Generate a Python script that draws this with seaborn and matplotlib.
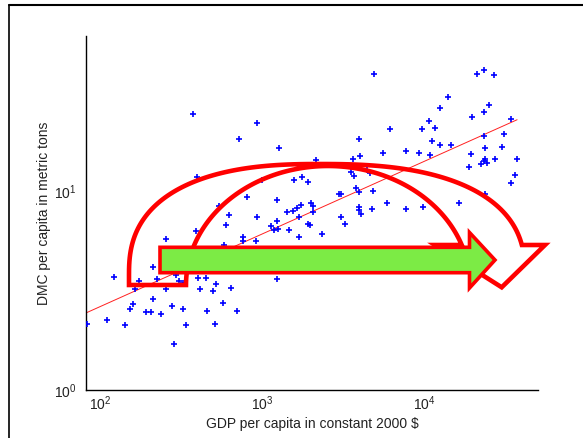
import numpy as np
import pandas as pd
import matplotlib
matplotlib.use("Agg")
import matplotlib.pyplot as plt
import seaborn as sns
from matplotlib.patches import Polygon
from matplotlib.lines import Line2D
from matplotlib.ticker import NullFormatter

# GDP per capita (constant 2000 $) and DMC per capita (metric tons) by country
gdp = [82.3, 110, 142, 122, 152, 158, 164, 172, 191, 205, 210, 210, 223, 236, 254, 254, 277, 283, 294, 305,
       322, 325, 338, 371, 391, 396, 398, 411, 449, 456, 498, 508, 516, 542, 568, 575, 596, 622, 637, 692,
       720, 762, 762, 800, 913, 930, 930, 994, 1130, 1170, 1230, 1230, 1245, 1230, 1270, 1425, 1453, 1538,
       1556, 1629, 1683, 1675, 1723, 1756, 1912, 1920, 1967, 2004, 2045, 2062, 2142, 2317, 2962, 3069, 3069,
       3226, 3498, 3608, 3688, 3783, 3930, 3930, 3930, 3963, 4019, 4033, 4404, 4615, 4750, 4818, 4864,
       5500, 5820, 6110, 7640, 7720, 9170, 9660, 9775, 10670, 10830, 11170, 11560, 12360, 12360, 13840,
       14450, 16230, 18900, 19200, 19620, 20890, 22260, 23100, 23100, 23100, 23260, 23390, 23660, 23700,
       24240, 24970, 26900, 27290, 29920, 30900, 34000, 34000, 36000, 37150]
dmc = [2.15, 2.24, 2.11, 3.71, 2.55, 2.70, 3.23, 3.54, 2.47, 2.47, 2.86, 4.17, 3.62, 2.42, 3.21, 5.74, 2.65,
       1.71, 3.76, 3.54, 2.55, 3.44, 2.11, 24.3, 6.28, 11.7, 3.65, 3.21, 3.65, 2.48, 3.15, 2.15, 3.41, 8.41,
       2.73, 5.35, 6.72, 7.55, 3.24, 2.49,
       18.3, 5.89, 5.63, 9.36, 5.63, 7.38, 21.9, 11.4, 6.67, 6.35, 8.98, 7.08, 6.42, 3.62, 16.5, 7.84, 6.37,
       7.96, 11.4, 8.21, 7.36, 5.85, 8.47, 11.7, 11.1, 6.80, 6.72, 8.74, 7.86, 8.41, 14.3, 6.11, 9.66, 9.66,
       7.38, 6.81, 12.4, 14.5, 11.9, 10.4, 18.3, 8.34, 7.98, 9.85, 14.9, 7.68, 12.7, 12.3, 8.07, 9.98, 38.6,
       15.5, 8.74, 20.4, 15.8, 8.07, 15.5, 20.4, 8.31, 22.4, 15.2, 17.8, 20.7, 26.2, 17.0, 29.7, 17.0, 8.74,
       13.2, 15.3, 23.6, 38.6, 13.6, 40.7, 24.9, 18.9, 14.2, 16.5, 14.5, 9.66, 13.8, 27.0, 38.1, 14.5, 16.7,
       19.3, 22.9, 11.0, 12.0, 14.5]

# log-log regression: log10(dmc) = intercept + slope * log10(gdp)
fit_slope = 0.365
fit_intercept = -0.3105

x_label = "GDP per capita in constant 2000 $"
y_label = "DMC per capita in metric tons"

W, H = 583, 438
FONT = ["Liberation Sans Narrow", "Liberation Sans", "DejaVu Sans"]

sns.set_style("white")
plt.rcParams["font.family"] = FONT
plt.rcParams["mathtext.fontset"] = "custom"
plt.rcParams["mathtext.rm"] = "Liberation Sans"
plt.rcParams["mathtext.it"] = "Liberation Sans:italic"
plt.rcParams["mathtext.bf"] = "Liberation Sans:bold"
TXT = "#222222"


def fig_pt(x, y):
    """Pixel position (from top-left) to figure fraction."""
    return (x / W, 1 - y / H)


fig = plt.figure(figsize=(W / 100, H / 100), dpi=100)
ax = fig.add_axes([86 / W, 1 - 390 / H, (538 - 86) / W, (390 - 36) / H])

df = pd.DataFrame({"gdp": gdp, "dmc": dmc})
sns.scatterplot(data=df, x="gdp", y="dmc", marker="+", s=15, color="#0000ff",
                linewidth=1.2, ax=ax, zorder=3, legend=False)

xf = np.geomspace(min(gdp), max(gdp), 60)
yf = 10 ** (fit_intercept + fit_slope * np.log10(xf))
ax.plot(xf, yf, color="#ff2020", lw=0.7, zorder=2)

ax.set_xscale("log")
ax.set_yscale("log")
ax.set_xlim(81.5, 50000)
ax.set_ylim(1, 60)
ax.yaxis.set_minor_formatter(NullFormatter())
ax.xaxis.set_minor_formatter(NullFormatter())

sns.despine(ax=ax)
for side in ("left", "bottom"):
    ax.spines[side].set_color("black")
    ax.spines[side].set_linewidth(1.0)
ax.tick_params(which="both", direction="in", top=False, right=False, colors="black",
               labelcolor=TXT, labelsize=10)
ax.tick_params(which="major", length=4, width=0.8)
ax.tick_params(which="minor", length=2.5, width=0.7)
ax.tick_params(axis="x", which="major", pad=3)
ax.tick_params(axis="y", which="major", pad=7)

ax.set_xlabel(x_label, fontsize=10, color=TXT, labelpad=3)
ax.set_ylabel(y_label, fontsize=10, color=TXT, labelpad=2)

# outer frame of the slide
fig.add_artist(Line2D([8.5 / W, 8.5 / W], [0, 1 - 4.5 / H], color="black", lw=1.2,
                      transform=fig.transFigure))
fig.add_artist(Line2D([8.5 / W, 1], [1 - 4.5 / H, 1 - 4.5 / H], color="black", lw=1.5,
                      transform=fig.transFigure))

# curved down arrow outline (outer superellipse arc, inner elliptic arc, arrow head)
cxu, cyu, bu, alu, aru, nu = 320, 275, 111, 191, 205, 2.5
tu = np.linspace(np.arcsin((30 / bu) ** (nu / 2)), np.pi, 120)
cu = np.cos(tu)
xu = cxu + np.where(cu >= 0, aru, alu) * np.sign(cu) * np.abs(cu) ** (2 / nu)
yu = cyu - bu * np.abs(np.sin(tu)) ** (2 / nu)

cxl, cyl, al, bl = 328, 285, 142, 119
tl = np.linspace(np.pi, np.arcsin(40 / bl), 120)
xl = cxl + al * np.cos(tl)
yl = cyl - bl * np.sin(tl)

head = [(xl[-1], 245), (435, 245), (501.7, 287.3), (545, 245), (xu[0], 245)]
verts = head + list(zip(xu, yu)) + [(129, 285)] + list(zip(xl, yl))
curved = Polygon([fig_pt(x, y) for x, y in verts], closed=True, fill=False,
                 edgecolor="#ff0000", lw=3.3, joinstyle="miter",
                 transform=fig.transFigure, zorder=5)
fig.add_artist(curved)

# straight green arrow
arrow_pts = [(160, 247.3), (469.5, 247.3), (469.5, 232.5), (495, 260),
             (469.5, 288), (469.5, 272.7), (160, 272.7)]
green = Polygon([fig_pt(x, y) for x, y in arrow_pts], closed=True,
                facecolor="#7ceb45", edgecolor="#ff0000", lw=2.6, joinstyle="miter",
                transform=fig.transFigure, zorder=6)
fig.add_artist(green)

fig.savefig("out.png", dpi=100, facecolor="white")
